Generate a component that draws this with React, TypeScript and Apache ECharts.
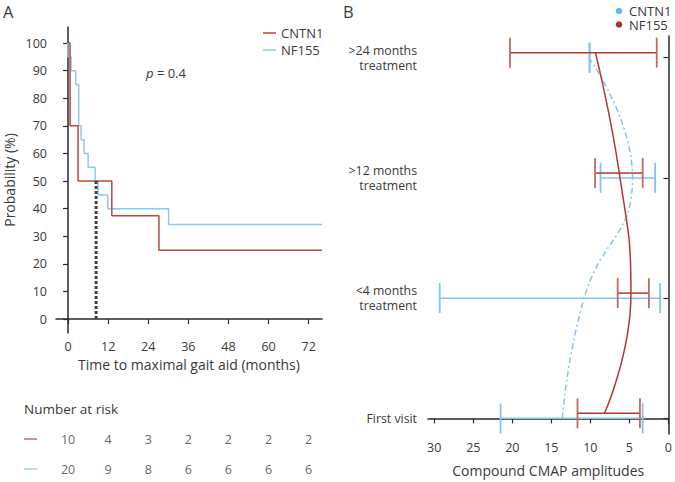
import React, { useEffect, useRef } from "react";
import * as echarts from "echarts";

// ---------- Panel A: Kaplan-Meier ----------
const kmCNTN1: [number, number][] = [
  [0.3, 100], [0.6, 70], [3.0, 50], [13.1, 37.5], [27.2, 25], [76, 25],
];
const kmNF155: [number, number][] = [
  [-0.1, 100], [0, 95], [0.9, 90], [2.3, 85], [3.2, 70], [3.9, 65], [4.8, 60],
  [6.0, 55], [8.1, 50], [9.0, 45], [11.9, 40], [30.1, 34.3], [76, 34.3],
];
const medianTime = 8.4;
const medianProb = 50;
const monthTicks = [0, 12, 24, 36, 48, 60, 72];
const probTicks = [0, 10, 20, 30, 40, 50, 60, 70, 80, 90, 100];
const riskCNTN1 = [10, 4, 3, 2, 2, 2, 2];
const riskNF155 = [20, 9, 8, 6, 6, 6, 6];
const pValue = "0.4";

// ---------- Panel B: CMAP amplitudes ----------
const visitLabels = ["First visit", "<4 months\ntreatment", ">12 months\ntreatment", ">24 months\ntreatment"];
const ampTicks = [0, 5, 10, 15, 20, 25, 30];
const cntn1Mean = [13.6, 10.8, 4.6, 10.2];
const cntn1Low = [3.3, 1.06, 1.7, 10.1];
const cntn1High = [21.5, 29.3, 8.7, 10.1];
const nf155Mean = [8.2, 4.8, 6.3, 9.35];
const nf155Low = [3.65, 2.5, 3.3, 1.5];
const nf155High = [11.65, 6.5, 9.4, 20.3];

const FONT = "'Open Sans', 'Noto Sans', sans-serif";
const TXT = "#3a3a3a";
const RED_A = "#b5493d";
const BLUE_A = "#8ec7f0";
const RED_B = "#b03a2e";
const RED_BAR = "#c26a5f";
const BLUE_B = "#88c2ee";
const AXIS = "#2a2a2a";

const RED_OFF = -5; // px offset of NF155 marks
const redOffsetUnits = 0.041;

export default function App() {
  const ref = useRef<HTMLDivElement>(null);
  useEffect(() => {
    if (!ref.current) return;
    const chart = echarts.init(ref.current, undefined, { renderer: "svg" });

    const errorBar = (color: string, capColor: string, dy: number) => (params: any, api: any) => {
      const idx = api.value(0);
      const p1 = api.coord([api.value(1), idx]);
      const p2 = api.coord([api.value(2), idx]);
      const y = p1[1] + dy;
      const h = 15;
      return {
        type: "group",
        children: [
          { type: "line", shape: { x1: p1[0], y1: y, x2: p2[0], y2: y }, style: { stroke: color, lineWidth: 1.5 } },
          { type: "line", shape: { x1: p1[0], y1: y - h, x2: p1[0], y2: y + h }, style: { stroke: capColor, lineWidth: 1.8 } },
          { type: "line", shape: { x1: p2[0], y1: y - h, x2: p2[0], y2: y + h }, style: { stroke: capColor, lineWidth: 1.8 } },
        ],
      };
    };

    const axisTxt = { color: TXT, fontFamily: FONT, fontSize: 12.5 };

    const option: any = {
      animation: false,
      textStyle: { fontFamily: FONT },
      grid: [
        { left: 56, top: 27, width: 266, height: 306 },
        { left: 56, top: 439, width: 266, height: 30 },
        { left: 428, top: 36, width: 242, height: 403 },
      ],
      xAxis: [
        {
          gridIndex: 0, type: "value", min: -3.6, max: 76,
          axisLine: { lineStyle: { color: AXIS, width: 1.5 } },
          axisTick: { show: true, customValues: monthTicks, length: 5, lineStyle: { color: AXIS, width: 1.2 } },
          axisLabel: { ...axisTxt, customValues: monthTicks, margin: 7 },
          splitLine: { show: false },
          name: "Time to maximal gait aid (months)", nameLocation: "middle", nameGap: 24,
          nameTextStyle: { color: TXT, fontFamily: FONT, fontSize: 14 },
        },
        {
          gridIndex: 1, type: "value", min: -3.6, max: 76, show: false,
        },
        {
          gridIndex: 2, type: "value", min: 0, max: 30.8, inverse: true,
          axisLine: { lineStyle: { color: AXIS, width: 1.5 } },
          axisTick: { show: true, customValues: ampTicks, length: 5, lineStyle: { color: AXIS, width: 1.2 } },
          axisLabel: { ...axisTxt, customValues: ampTicks, margin: 7 },
          splitLine: { show: false },
          name: "Compound CMAP amplitudes", nameLocation: "middle", nameGap: 29,
          nameTextStyle: { color: TXT, fontFamily: FONT, fontSize: 14 },
        },
      ],
      yAxis: [
        {
          gridIndex: 0, type: "value", min: -5, max: 105.8,
          axisLine: { show: true, lineStyle: { color: AXIS, width: 1.5 } },
          axisTick: { show: true, customValues: probTicks, length: 5, lineStyle: { color: AXIS, width: 1.2 } },
          axisLabel: { ...axisTxt, customValues: probTicks, margin: 9 },
          splitLine: { show: false },
          name: "Probability (%)", nameLocation: "middle", nameGap: 40,
          nameTextStyle: { color: TXT, fontFamily: FONT, fontSize: 14 },
        },
        { gridIndex: 1, type: "value", min: 0, max: 1, show: false },
        {
          gridIndex: 2, type: "value", min: -0.13, max: 3.18,
          axisLine: { show: true, lineStyle: { color: AXIS, width: 1.5 } },
          axisTick: { show: true, customValues: [0, 1, 2, 3], length: 5, lineStyle: { color: AXIS, width: 1.2 } },
          axisLabel: {
            ...axisTxt, fontSize: 12.3, customValues: [0, 1, 2, 3], margin: 11, align: "right", lineHeight: 15,
            formatter: (v: number) => visitLabels[Math.round(v)],
          },
          splitLine: { show: false },
        },
      ],
      series: [
        {
          name: "CNTN1", type: "line", xAxisIndex: 0, yAxisIndex: 0, step: "end", symbol: "none",
          data: kmCNTN1, lineStyle: { color: RED_A, width: 1.5 }, z: 3,
        },
        {
          name: "NF155", type: "line", xAxisIndex: 0, yAxisIndex: 0, step: "end", symbol: "none",
          data: kmNF155, lineStyle: { color: BLUE_A, width: 1.5 }, z: 2,
        },
        {
          name: "median", type: "line", xAxisIndex: 0, yAxisIndex: 0, symbol: "none",
          data: [[medianTime, medianProb], [medianTime, 0]],
          lineStyle: { color: "#404040", width: 3, type: [3, 2] }, z: 4,
        },
        {
          name: "riskCNTN1", type: "scatter", xAxisIndex: 1, yAxisIndex: 1, symbolSize: 0,
          data: monthTicks.map((t, i) => [t, 1, riskCNTN1[i]]),
          label: { show: true, position: "inside", color: TXT, fontFamily: FONT, fontSize: 12.5, formatter: (p: any) => String(p.value[2]) },
        },
        {
          name: "riskNF155", type: "scatter", xAxisIndex: 1, yAxisIndex: 1, symbolSize: 0,
          data: monthTicks.map((t, i) => [t, 0, riskNF155[i]]),
          label: { show: true, position: "inside", color: TXT, fontFamily: FONT, fontSize: 12.5, formatter: (p: any) => String(p.value[2]) },
        },
        {
          name: "CNTN1 range", type: "custom", xAxisIndex: 2, yAxisIndex: 2,
          renderItem: errorBar(BLUE_B, BLUE_B, 0),
          encode: { x: [1, 2], y: 0 },
          data: visitLabels.map((_, i) => [i, cntn1Low[i], cntn1High[i]]), z: 2,
        },
        {
          name: "NF155 range", type: "custom", xAxisIndex: 2, yAxisIndex: 2,
          renderItem: errorBar(RED_B, RED_BAR, RED_OFF),
          encode: { x: [1, 2], y: 0 },
          data: visitLabels.map((_, i) => [i, nf155Low[i], nf155High[i]]), z: 3,
        },
        {
          name: "CNTN1 mean", type: "line", xAxisIndex: 2, yAxisIndex: 2, symbol: "none", smooth: 0.5,
          data: cntn1Mean.map((v, i) => [v, i]),
          lineStyle: { color: BLUE_B, width: 1.5, type: [6, 3, 2, 3] }, z: 4,
        },
        {
          name: "NF155 mean", type: "line", xAxisIndex: 2, yAxisIndex: 2, symbol: "none", smooth: 0.5,
          data: nf155Mean.map((v, i) => [v, i + redOffsetUnits]),
          lineStyle: { color: RED_B, width: 1.5 }, z: 5,
        },
      ],
      graphic: [
        { type: "text", x: 3, y: 11, style: { text: "A", fontSize: 16.5, fontFamily: FONT, fill: TXT, verticalAlign: "middle" } },
        { type: "text", x: 343, y: 11, style: { text: "B", fontSize: 16.5, fontFamily: FONT, fill: TXT, verticalAlign: "middle" } },
        // legend A
        { type: "line", shape: { x1: 263, y1: 33, x2: 276, y2: 33 }, style: { stroke: RED_A, lineWidth: 1.5 } },
        { type: "line", shape: { x1: 263, y1: 50, x2: 276, y2: 50 }, style: { stroke: BLUE_A, lineWidth: 1.5 } },
        {
          type: "text", x: 281, y: 41.5,
          style: { text: "CNTN1\nNF155", lineHeight: 17, fontSize: 13, fontFamily: FONT, fill: TXT, verticalAlign: "middle" },
        },
        // p value
        {
          type: "text", x: 146, y: 73,
          style: {
            text: "{i|p} = " + pValue, verticalAlign: "middle", fontSize: 13, fontFamily: FONT, fill: TXT,
            rich: { i: { fontStyle: "italic", fontSize: 13, fontFamily: FONT, fill: TXT } },
          },
        },
        // number at risk
        { type: "text", x: 24, y: 409, style: { text: "Number at risk", fontSize: 13.5, fontFamily: FONT, fill: TXT, verticalAlign: "middle" } },
        { type: "line", shape: { x1: 24, y1: 439, x2: 37, y2: 439 }, style: { stroke: RED_A, lineWidth: 1.2 } },
        { type: "line", shape: { x1: 24, y1: 469, x2: 37, y2: 469 }, style: { stroke: BLUE_A, lineWidth: 1.2 } },
        // legend B
        { type: "circle", shape: { cx: 619, cy: 11, r: 3.3 }, style: { fill: "#6db6ea" } },
        { type: "circle", shape: { cx: 619, cy: 24.5, r: 3.3 }, style: { fill: "#a8342a" } },
        {
          type: "text", x: 629, y: 17.75,
          style: { text: "CNTN1\nNF155", lineHeight: 13.5, fontSize: 13, fontFamily: FONT, fill: TXT, verticalAlign: "middle" },
        },
      ],
    };
    chart.setOption(option);
    return () => chart.dispose();
  }, []);
  return <div ref={ref} style={{ width: 675, height: 482, position: "absolute", left: 0, top: 0 }} />;
}
